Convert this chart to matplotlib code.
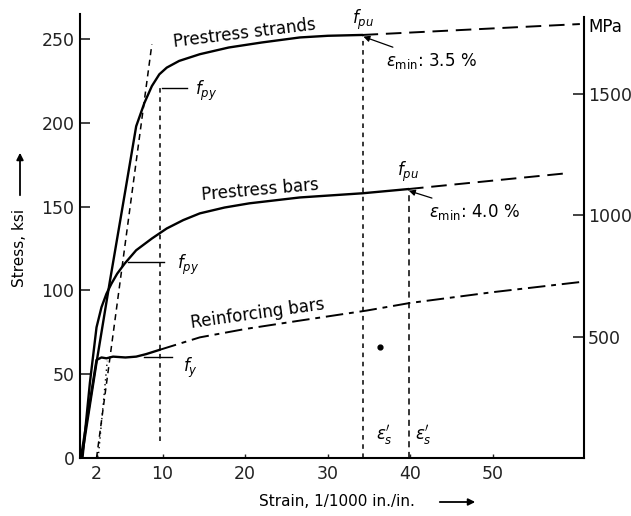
import matplotlib
matplotlib.use("Agg")
import matplotlib.pyplot as plt

# ---- data (strain in 1/1000 in./in., stress in ksi) ----
strand_strain = [0.2, 2.0, 3.6, 5.5, 6.8, 7.8, 8.7, 9.6, 10.5, 12.0, 14.5, 18.0, 22.0, 26.6, 30.0, 34.2]
strand_stress = [0, 57, 105, 160, 198, 212, 222, 229, 233, 237, 241, 245, 248, 251, 252, 252.5]
strand_ext_strain = [34.2, 60.5]
strand_ext_stress = [252.5, 259]

bar_strain = [0.3, 1.2, 2.0, 2.6, 3.2, 3.8, 4.5, 5.4, 6.8, 8.7, 10.5, 12.5, 14.5, 17.5, 20.5, 26.6, 34.2, 39.7]
bar_stress = [0, 45, 78, 90, 98, 104, 110, 116, 124, 131, 137, 142, 146, 149.5, 152, 155.5, 158, 160.5]
bar_ext_strain = [39.7, 59.0]
bar_ext_stress = [160.5, 170]

rebar_strain = [0.1, 2.0, 2.6, 3.2, 4.0, 5.5, 6.8, 8.0, 9.6]
rebar_stress = [0, 58.5, 60, 59.5, 60.5, 60, 60.5, 62, 64.5]
rebar_ext_strain = [9.6, 14.5, 20.0, 26.6, 34.7, 39.9, 50.0, 60.5]
rebar_ext_stress = [64.5, 72, 77, 82, 88, 92.5, 99, 105]

tangent_strain = [2.0, 8.7]
tangent_stress = [0, 247]
offset_strain = [2.2, 3.3]
offset_stress = [0, 58]

fpy_strand = 221      # ksi
fpy_bar = 117
fy_rebar = 60
fpu_strand_strain, fpu_strand = 34.3, 252.5
fpu_bar_strain, fpu_bar = 39.8, 160.5
yield_vert_strain = 9.7

dot_strain = [36.3]
dot_stress = [66]

x_ticks = [2, 10, 20, 30, 40, 50]
y_ticks = [0, 50, 100, 150, 200, 250]
mpa_ticks = [500, 1000, 1500]

KSI_TO_MPA = 6.895

# ---- figure ----
plt.rcParams['font.family'] = ['DejaVu Sans']
fig = plt.figure(figsize=(6.31, 5.16), dpi=100)
ax = fig.add_axes([80 / 631, 1 - 458 / 516, (584 - 80) / 631, (458 - 14) / 516])
ax.set_xlim(0, 61.0)
ax.set_ylim(0, 265)

k = 'black'
ax.plot(strand_strain, strand_stress, color=k, lw=1.7, solid_capstyle='round')
ax.plot(strand_ext_strain, strand_ext_stress, color=k, lw=1.4, ls=(0, (8, 4)))
ax.plot(bar_strain, bar_stress, color=k, lw=1.7)
ax.plot(bar_ext_strain, bar_ext_stress, color=k, lw=1.4, ls=(0, (8, 4)))
ax.plot(rebar_strain, rebar_stress, color=k, lw=1.7)
ax.plot(rebar_ext_strain, rebar_ext_stress, color=k, lw=1.4, ls=(0, (9, 3, 2.5, 3)))

ax.plot(tangent_strain, tangent_stress, color=k, lw=1.1, ls=(0, (4, 3)))
ax.plot(offset_strain, offset_stress, color=k, lw=1.0, ls=(0, (1, 2.5)))

# yield markers
ax.plot([yield_vert_strain, yield_vert_strain], [10, fpy_strand], color=k, lw=1.1, ls=(0, (3, 3)))
ax.plot([9.9, 13.0], [fpy_strand, fpy_strand], color=k, lw=1.0)
ax.plot([5.8, 10.2], [fpy_bar, fpy_bar], color=k, lw=1.0)
ax.plot([7.8, 11.1], [fy_rebar, fy_rebar], color=k, lw=1.0)

# ultimate verticals
ax.plot([fpu_strand_strain, fpu_strand_strain], [0, fpu_strand], color=k, lw=1.1, ls=(0, (3, 3)))
ax.plot([fpu_bar_strain, fpu_bar_strain], [0, fpu_bar], color=k, lw=1.1, ls=(0, (4, 3)))

ax.scatter(dot_strain, dot_stress, s=12, color=k, zorder=3)

# text labels
fs = 12
ax.text(19.9, 253.5, "Prestress strands", fontsize=fs, rotation=7, ha='center', va='center')
ax.text(21.8, 160, "Prestress bars", fontsize=fs, rotation=5, ha='center', va='center')
ax.text(21.5, 86, "Reinforcing bars", fontsize=fs, rotation=8, ha='center', va='center')

ax.text(15.3, 219, r"$f_{py}$", fontsize=fs, ha='center', va='center')
ax.text(13.1, 115, r"$f_{py}$", fontsize=fs, ha='center', va='center')
ax.text(13.4, 54, r"$f_y$", fontsize=fs, ha='center', va='center')
ax.text(34.3, 261.5, r"$f_{pu}$", fontsize=fs, ha='center', va='center')
ax.text(39.7, 171, r"$f_{pu}$", fontsize=fs, ha='center', va='center')

ax.annotate(r"$\epsilon_{\rm min}$: 3.5 %", xy=(fpu_strand_strain, fpu_strand - 1),
            xytext=(37.0, 237), fontsize=fs, ha='left', va='center',
            arrowprops=dict(arrowstyle='-|>', color=k, lw=0.9, shrinkA=2, shrinkB=0,
                            mutation_scale=9))
ax.annotate(r"$\epsilon_{\rm min}$: 4.0 %", xy=(fpu_bar_strain, fpu_bar - 1),
            xytext=(42.3, 147), fontsize=fs, ha='left', va='center',
            arrowprops=dict(arrowstyle='-|>', color=k, lw=0.9, shrinkA=2, shrinkB=0,
                            mutation_scale=9))

ax.text(36.9, 14, r"$\epsilon_s'$", fontsize=fs, ha='center', va='center')
ax.text(41.6, 14, r"$\epsilon_s'$", fontsize=fs, ha='center', va='center')

# axes styling
ax.spines['top'].set_visible(False)
for s in ['left', 'right', 'bottom']:
    ax.spines[s].set_linewidth(1.5)
ax.spines['right'].set_bounds(0, 263)

tfs = 12.5
ax.set_xticks(x_ticks)
ax.set_xticklabels([str(v) for v in x_ticks])
ax.set_yticks(y_ticks)
ax.set_yticklabels([str(v) for v in y_ticks])
ax.tick_params(axis='y', direction='in', length=7, width=1.2, labelsize=tfs, pad=4, colors='#222222')
ax.tick_params(axis='x', direction='in', length=3, width=1.0, labelsize=tfs, pad=5, colors='#222222')

sec = ax.secondary_yaxis('right', functions=(lambda v: v * KSI_TO_MPA, lambda v: v / KSI_TO_MPA))
sec.spines['right'].set_visible(False)
sec.set_yticks(mpa_ticks)
sec.set_yticklabels([str(v) for v in mpa_ticks])
sec.tick_params(axis='y', direction='in', length=8, width=1.2, labelsize=tfs, pad=3, colors='#222222')
fig.text(588 / 631, 1 - 27 / 516, "MPa", fontsize=fs, ha='left', va='center')

# axis titles with arrows
fig.text(20 / 631, 1 - 248 / 516, "Stress, ksi", fontsize=11, rotation=90, ha='center', va='center')
fig.add_artist(matplotlib.patches.FancyArrowPatch((20 / 631, 1 - 198 / 516), (20 / 631, 1 - 150 / 516),
               transform=fig.transFigure, arrowstyle='-|>', mutation_scale=10, lw=1.3, color=k))
fig.text(337 / 631, 1 - 502 / 516, "Strain, 1/1000 in./in.", fontsize=11, ha='center', va='center')
fig.add_artist(matplotlib.patches.FancyArrowPatch((437 / 631, 1 - 502 / 516), (478 / 631, 1 - 502 / 516),
               transform=fig.transFigure, arrowstyle='-|>', mutation_scale=10, lw=1.3, color=k))

fig.savefig("out.png", dpi=100)
